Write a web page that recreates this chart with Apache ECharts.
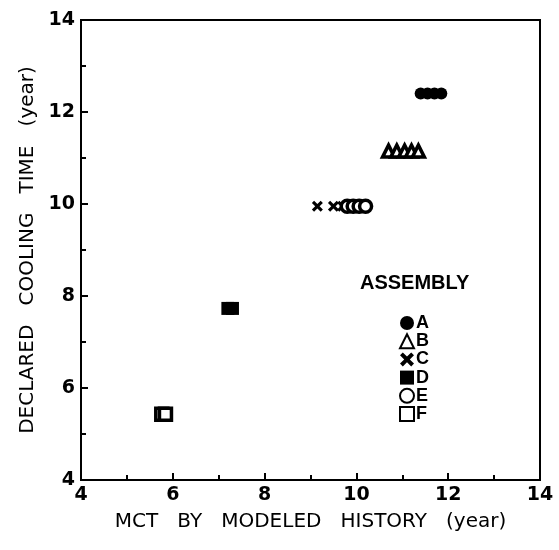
<!DOCTYPE html>
<html>
<head>
<meta charset="utf-8">
<script src="https://cdn.jsdelivr.net/npm/echarts@6/dist/echarts.min.js"></script>
<style>
  html, body { margin: 0; padding: 0; background: #fff; }
  #chart { width: 559px; height: 550px; }
</style>
</head>
<body>
<div id="chart"></div>
<script>
// values
const assemblies = ['A', 'B', 'C', 'D', 'E', 'F']
const mctA = [11.4, 11.55, 11.7, 11.85]
const declA = [12.4, 12.4, 12.4, 12.4]
const mctB = [10.7, 10.88, 11.05, 11.2, 11.35]
const declB = [11.15, 11.15, 11.15, 11.15, 11.15]
const mctC = [9.15, 9.5, 9.7]
const declC = [9.95, 9.95, 9.95]
const mctD = [7.2, 7.3]
const declD = [7.73, 7.73]
const mctE = [9.8, 9.93, 10.06, 10.2]
const declE = [9.95, 9.95, 9.95, 9.95]
const mctF = [5.76, 5.84]
const declF = [5.43, 5.43]

const pairs = (xs, ys) => xs.map((x, i) => [x, ys[i]])

const crossPath = 'path://M0,2L2,0L5,3L8,0L10,2L7,5L10,8L8,10L5,7L2,10L0,8L3,5Z'

const chart = echarts.init(document.getElementById('chart'))

function makeAxis(name, gap) {
    return {
        type: 'value',
        min: 4,
        max: 14,
        interval: 2,
        name: name,
        nameGap: gap,
        nameLocation: 'middle',
        nameTextStyle: { fontFamily: 'DejaVu Sans', fontSize: 20, color: '#000' },
        axisLine: { show: true, lineStyle: { color: '#000', width: 2 } },
        axisTick: { show: true, inside: true, length: 7, lineStyle: { color: '#000', width: 2 } },
        minorTick: { show: true, splitNumber: 2, length: 5, lineStyle: { color: '#000', width: 2 } },
        splitLine: { show: false },
        axisLabel: {
            margin: 6,
            fontFamily: 'DejaVu Sans',
            fontWeight: 'bold',
            fontSize: 19,
            color: '#000',
        },
    }
}

chart.setOption({
    animation: false,
    backgroundColor: '#fff',
    grid: {
        left: 81,
        right: 19,
        top: 20,
        bottom: 70,
        show: true,
        borderColor: '#000',
        borderWidth: 2,
    },
    xAxis: makeAxis('MCT   BY   MODELED   HISTORY   (year)', 32),
    yAxis: makeAxis('DECLARED   COOLING   TIME   (year)', 35),
    legend: {
        data: assemblies,
        orient: 'vertical',
        left: 394,
        top: 309,
        itemWidth: 14,
        itemHeight: 14,
        itemGap: 0.2,
        textStyle: {
            fontFamily: 'Liberation Sans',
            fontWeight: 'bold',
            fontSize: 18,
            color: '#000',
            lineHeight: 15,
            padding: [0, 0, 0, -3],
        },
    },
    graphic: [
        {
            type: 'text',
            left: 360,
            top: 273,
            style: {
                text: 'ASSEMBLY',
                font: 'bold 20px "Liberation Sans"',
                fill: '#000',
            },
        },
    ],
    series: [
        {
            name: 'A', type: 'scatter', symbol: 'circle', symbolSize: 12,
            data: pairs(mctA, declA),
            itemStyle: { color: '#000', opacity: 1 },
        },
        {
            name: 'B', type: 'scatter', symbol: 'triangle', symbolSize: 12,
            data: pairs(mctB, declB),
            itemStyle: { color: '#fff', borderColor: '#000', borderWidth: 3.5, opacity: 1 },
        },
        {
            name: 'C', type: 'scatter', symbol: crossPath, symbolSize: 11,
            data: pairs(mctC, declC),
            itemStyle: { color: '#000', opacity: 1 },
        },
        {
            name: 'D', type: 'scatter', symbol: 'rect', symbolSize: 13,
            data: pairs(mctD, declD),
            itemStyle: { color: '#000', opacity: 1 },
        },
        {
            name: 'E', type: 'scatter', symbol: 'circle', symbolSize: 12,
            data: pairs(mctE, declE),
            itemStyle: { color: '#fff', borderColor: '#000', borderWidth: 3.5, opacity: 1 },
        },
        {
            name: 'F', type: 'scatter', symbol: 'rect', symbolSize: 12,
            data: pairs(mctF, declF),
            itemStyle: { color: '#fff', borderColor: '#000', borderWidth: 3.5, opacity: 1 },
        },
    ],
})
</script>
</body>
</html>
